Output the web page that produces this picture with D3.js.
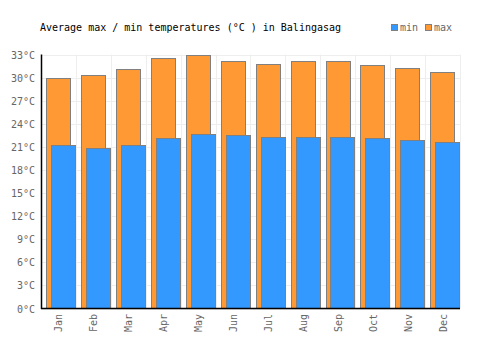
<!DOCTYPE html>
<html lang="en">
<head>
  <meta charset="UTF-8">
  <title>Balingasag temperatures</title>
  <style>
    body { margin: 0; background: #fff; }
    text { font-family: "DejaVu Sans Mono", monospace; }
  </style>
</head>
<body>
  <script src="https://d3js.org/d3.v7.min.js"></script>
  <script>
    const months = ["Jan", "Feb", "Mar", "Apr", "May", "Jun", "Jul", "Aug", "Sep", "Oct", "Nov", "Dec"];
    const maxTemps = [30.0, 30.3, 31.1, 32.5, 33.0, 32.1, 31.8, 32.2, 32.1, 31.6, 31.3, 30.7];
    const minTemps = [21.3, 20.9, 21.2, 22.1, 22.7, 22.5, 22.3, 22.3, 22.3, 22.2, 21.9, 21.6];
    const yTicks = [0, 3, 6, 9, 12, 15, 18, 21, 24, 27, 30, 33];

    const width = 500, height = 350;
    const margin = { left: 41, right: 460, top: 54.5, bottom: 308.5 };

    const svg = d3.select("body").append("svg")
      .attr("width", width)
      .attr("height", height);

    const x = d3.scaleBand().domain(months).range([margin.left, margin.right]);
    const y = d3.scaleLinear().domain([0, 33]).range([margin.bottom, margin.top]);
    const bw = x.bandwidth();

    // grid
    svg.append("g")
      .selectAll("line")
      .data(yTicks)
      .join("line")
      .attr("x1", margin.left).attr("x2", margin.right)
      .attr("y1", d => Math.round(y(d)) + 0.5).attr("y2", d => Math.round(y(d)) + 0.5)
      .attr("stroke", "#eee");

    svg.append("g")
      .selectAll("line")
      .data(months)
      .join("line")
      .attr("x1", d => Math.round(x(d) + bw) + 0.5)
      .attr("x2", d => Math.round(x(d) + bw) + 0.5)
      .attr("y1", margin.top).attr("y2", margin.bottom)
      .attr("stroke", "#eee");

    // max bars
    svg.append("g")
      .selectAll("rect")
      .data(maxTemps)
      .join("rect")
      .attr("x", (d, i) => Math.round(x(months[i]) + bw * 0.15) + 0.5)
      .attr("width", Math.round(bw * 0.68))
      .attr("y", d => Math.round(y(d)) + 0.5)
      .attr("height", d => margin.bottom - Math.round(y(d)) - 0.5)
      .attr("fill", "#ff9933")
      .attr("stroke", "#808080");

    // min bars
    svg.append("g")
      .selectAll("rect")
      .data(minTemps)
      .join("rect")
      .attr("x", (d, i) => Math.round(x(months[i]) + bw * 0.29) + 0.5)
      .attr("width", Math.round(bw * 0.7))
      .attr("y", d => Math.round(y(d)) + 0.5)
      .attr("height", d => margin.bottom - Math.round(y(d)) - 0.5)
      .attr("fill", "#3399ff")
      .attr("stroke", "#808080");

    // axes
    svg.append("line")
      .attr("x1", margin.left + 0.5).attr("x2", margin.left + 0.5)
      .attr("y1", margin.top).attr("y2", margin.bottom + 0.5)
      .attr("stroke", "#000").attr("stroke-width", 1.5);
    svg.append("line")
      .attr("x1", margin.left).attr("x2", margin.right)
      .attr("y1", margin.bottom).attr("y2", margin.bottom)
      .attr("stroke", "#000").attr("stroke-width", 1.5);

    // y labels
    svg.append("g")
      .selectAll("text")
      .data(yTicks)
      .join("text")
      .attr("x", 35)
      .attr("y", d => y(d) + 4)
      .attr("text-anchor", "end")
      .attr("font-size", 10)
      .attr("fill", "#666")
      .text(d => d + "°C");

    // x labels
    svg.append("g")
      .selectAll("text")
      .data(months)
      .join("text")
      .attr("transform", d => `translate(${x(d) + bw / 2 + 4},314) rotate(-90)`)
      .attr("text-anchor", "end")
      .attr("font-size", 10)
      .attr("fill", "#666")
      .text(d => d);

    // title
    svg.append("text")
      .attr("x", 40).attr("y", 31)
      .attr("font-size", 10)
      .attr("fill", "#000")
      .text("Average max / min temperatures (°C ) in Balingasag");

    // legend
    const legend = [["min", "#3399ff", 391], ["max", "#ff9933", 425]];
    const lg = svg.append("g").selectAll("g").data(legend).join("g");
    lg.append("rect")
      .attr("x", d => d[2] + 0.5).attr("y", 24.5)
      .attr("width", 6).attr("height", 6)
      .attr("fill", d => d[1])
      .attr("stroke", "#808080");
    lg.append("text")
      .attr("x", d => d[2] + 9).attr("y", 31)
      .attr("font-size", 10)
      .attr("fill", "#666")
      .text(d => d[0]);
  </script>
</body>
</html>
